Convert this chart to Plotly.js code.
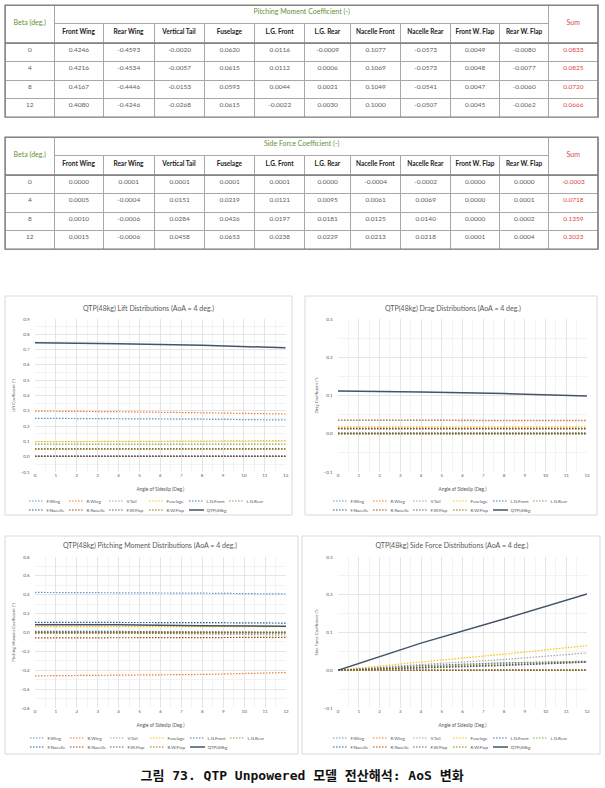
<!DOCTYPE html>
<html><head><meta charset="utf-8">
<script src="https://cdn.plot.ly/plotly-3.0.1.min.js"></script>
<style>
html,body{margin:0;padding:0;background:#fff;width:605px;height:788px;overflow:hidden;}
#wrap{width:1210px;height:1576px;transform:scale(0.5);transform-origin:0 0;}
</style></head><body><div id="wrap"><div id="chart"></div></div>
<script>
// ================= DATA =================
const beta = [0, 4, 8, 12];
const componentNames = ['F.Wing','R.Wing','V.Tail','Fuselage','L.G.Front','L.G.Rear','F.Nacelle','R.Nacelle','F.W.Flap','R.W.Flap'];
const totalName = 'QTP(48kg)';
const tableColumns = ['Front Wing','Rear Wing','Vertical Tail','Fuselage','L.G. Front','L.G. Rear','Nacelle Front','Nacelle Rear','Front W. Flap','Rear W. Flap'];

// Pitching moment coefficient, one row per component (Beta = 0, 4, 8, 12)
const pitchValues = [
  [0.4246, 0.4216, 0.4167, 0.4080],
  [-0.4593, -0.4534, -0.4446, -0.4246],
  [-0.0020, -0.0057, -0.0153, -0.0268],
  [0.0620, 0.0615, 0.0593, 0.0615],
  [0.0116, 0.0112, 0.0044, -0.0022],
  [-0.0009, 0.0006, 0.0021, 0.0030],
  [0.1077, 0.1069, 0.1049, 0.1000],
  [-0.0573, -0.0573, -0.0541, -0.0507],
  [0.0049, 0.0048, 0.0047, 0.0045],
  [-0.0080, -0.0077, -0.0060, -0.0062]
];
const pitchSum = [0.0833, 0.0825, 0.0720, 0.0666];

// Side force coefficient
const sideValues = [
  [0.0000, 0.0005, 0.0010, 0.0015],
  [0.0001, -0.0004, -0.0006, -0.0006],
  [0.0001, 0.0151, 0.0284, 0.0458],
  [0.0001, 0.0219, 0.0426, 0.0653],
  [0.0001, 0.0121, 0.0197, 0.0238],
  [0.0000, 0.0095, 0.0181, 0.0229],
  [-0.0004, 0.0061, 0.0125, 0.0213],
  [-0.0002, 0.0069, 0.0140, 0.0218],
  [0.0000, 0.0000, 0.0000, 0.0001],
  [0.0000, 0.0001, 0.0002, 0.0004]
];
const sideSum = [-0.0003, 0.0718, 0.1359, 0.2023];

// Lift coefficient
const liftValues = [
  [0.251, 0.249, 0.245, 0.240],
  [0.298, 0.294, 0.287, 0.279],
  [0.002, 0.002, 0.002, 0.002],
  [0.098, 0.099, 0.102, 0.106],
  [0.004, 0.004, 0.004, 0.004],
  [0.082, 0.082, 0.082, 0.082],
  [0.003, 0.003, 0.003, 0.003],
  [0.003, 0.003, 0.003, 0.003],
  [0.052, 0.052, 0.052, 0.052],
  [0.050, 0.050, 0.050, 0.050]
];
const liftTotal = [0.744, 0.738, 0.728, 0.712];

// Drag coefficient
const dragValues = [
  [0.035, 0.035, 0.034, 0.034],
  [0.036, 0.036, 0.035, 0.035],
  [0.002, 0.002, 0.002, 0.002],
  [0.018, 0.018, 0.018, 0.018],
  [0.001, 0.001, 0.001, 0.001],
  [0.001, 0.001, 0.001, 0.001],
  [0.013, 0.013, 0.013, 0.013],
  [0.014, 0.014, 0.014, 0.014],
  [0.001, 0.001, 0.001, 0.001],
  [-0.001, -0.001, -0.001, -0.001]
];
const dragTotal = [0.112, 0.109, 0.105, 0.099];

// ================= STYLE =================
const seriesColors = ['#5B9BD5','#ED7D31','#A5A5A5','#FFC000','#4472C4','#70AD47','#255E91','#9E480E','#636363','#997300'];
const totalColor = '#44546A';
const FONT = 'Lato, "Open Sans", sans-serif';
const TFONT = 'Lato, sans-serif';
const GRAY = '#595959';
const W = 605, H = 788, S = 2;
const fx = v => v / W, fy = v => 1 - v / H;

// The page is drawn at 2x and scaled down with CSS; report element sizes
// inside the scaled wrapper in the figure's own (unscaled) pixel units.
const wrapEl = document.getElementById('wrap');
const nativeRect = Element.prototype.getBoundingClientRect;
Element.prototype.getBoundingClientRect = function () {
  const r = nativeRect.call(this);
  if (this !== wrapEl && wrapEl.contains(this)) {
    const w = nativeRect.call(wrapEl);
    return new DOMRect(w.left + (r.left - w.left) * S, w.top + (r.top - w.top) * S, r.width * S, r.height * S);
  }
  return r;
};

const data = [];
const layout = {
  width: W * S, height: H * S, autosize: false,
  margin: {l: 0, r: 0, t: 0, b: 0},
  paper_bgcolor: '#fff', plot_bgcolor: '#fff',
  font: {family: FONT, color: GRAY},
  showlegend: true,
  annotations: [], shapes: []
};

// ================= TABLES =================
const colW = [49.7, 48.5, 51.2, 50.5, 49.7, 50.5, 45.4, 50.5, 49.7, 49.3, 48.9, 49.3];
const midW = colW.slice(1, 11).reduce((a, b) => a + b, 0);
const tLeft = 5, tRight = 5 + colW.reduce((a, b) => a + b, 0);
const midLeft = tLeft + colW[0], midRight = tRight - colW[11];
const GREEN = '#5f9233', RED = '#e0464b', LINE = '#a8a8a8', DATA = '#5e5e5e';
const nb = s => s.replace(/ /g, '\u00a0');

function addTable(top, title, values, sums) {
  const bottom = top + 38 + 4 * 18.5;
  data.push({
    type: 'table',
    domain: {x: [fx(tLeft), fx(tRight)], y: [fy(bottom + 0.5), fy(top)]},
    columnwidth: [colW[0], midW, colW[11]],
    header: {
      values: [['&nbsp;<br>' + nb('Beta (deg.)')], [nb(title)], ['&nbsp;<br>Sum']],
      height: 76, align: 'center',
      fill: {color: '#fff'}, line: {color: LINE, width: 2},
      font: {family: TFONT, size: 14, color: [GREEN, GREEN, RED]}
    },
    cells: {
      values: [beta, beta.map(() => ''), sums],
      format: ['', '', '.4f'],
      height: 37, align: 'center',
      fill: {color: '#fff'}, line: {color: LINE, width: 2},
      font: {family: TFONT, size: 13, color: [DATA, DATA, RED]}
    }
  });
  data.push({
    type: 'table',
    domain: {x: [fx(midLeft), fx(midRight)], y: [fy(bottom + 0.5), fy(top + 18.5)]},
    columnwidth: colW.slice(1, 11),
    header: {
      values: tableColumns.map(s => '<b>' + nb(s) + '</b>'),
      height: 39, align: 'center',
      fill: {color: '#fff'}, line: {color: LINE, width: 2},
      font: {family: TFONT, size: 13, color: '#222'}
    },
    cells: {
      values: values,
      format: values.map(() => '.4f'),
      height: 37, align: 'center',
      fill: {color: '#fff'}, line: {color: LINE, width: 2},
      font: {family: TFONT, size: 13, color: DATA}
    }
  });
  // outer frame and double rule under the column headers
  layout.shapes.push({
    type: 'rect', xref: 'paper', yref: 'paper', layer: 'above',
    x0: fx(tLeft), x1: fx(tRight), y0: fy(bottom), y1: fy(top),
    line: {color: '#7a7a7a', width: 2.5}, fillcolor: 'rgba(0,0,0,0)'
  });
  layout.shapes.push({
    type: 'line', xref: 'paper', yref: 'paper', layer: 'above',
    x0: fx(tLeft), x1: fx(tRight), y0: fy(top + 38), y1: fy(top + 38),
    line: {color: '#7a7a7a', width: 3}
  });
}
addTable(5, 'Pitching Moment Coefficient (-)', pitchValues, pitchSum);
addTable(137, 'Side Force Coefficient (-)', sideValues, sideSum);

// ================= CHARTS =================
const charts = [
  {title: 'QTP(48kg) Lift Distributions (AoA = 4 deg.)', ytitle: 'Lift Coefficient (*)',
   comps: liftValues, total: liftTotal, yr: [-0.1, 0.9], dt: 0.1,
   box: [5, 296, 292, 515], px: [35, 285.7], py: [319, 472], tx: 148.5, ty: 308, lx: 26.5, ly: [501, 510]},
  {title: 'QTP(48kg) Drag Distributions (AoA = 4 deg.)', ytitle: 'Drag Coefficient (*)',
   comps: dragValues, total: dragTotal, yr: [-0.1, 0.3], dt: 0.1,
   box: [305, 296, 597, 515], px: [338, 587], py: [319, 472], tx: 453, ty: 308, lx: 330.5, ly: [501, 510]},
  {title: 'QTP(48kg) Pitching Moment Distributions (AoA = 4 deg.)', ytitle: 'Pitching Moment Coefficient (*)',
   comps: pitchValues, total: pitchSum, yr: [-0.8, 0.8], dt: 0.2,
   box: [5, 536, 298, 754], px: [35, 286], py: [557, 708], tx: 150, ty: 545, lx: 27.5, ly: [738, 747]},
  {title: 'QTP(48kg) Side Force Distributions (AoA = 4 deg.)', ytitle: 'Side Force Coefficient (*)',
   comps: sideValues, total: sideSum, yr: [-0.1, 0.3], dt: 0.1,
   box: [302, 536, 600, 754], px: [338, 587], py: [557, 708], tx: 452, ty: 545, lx: 330.5, ly: [738, 747]}
];

charts.forEach((c, ci) => {
  const id = ci === 0 ? '' : String(ci + 1);
  const legA = ci === 0 ? 'legend' : 'legend' + (2 * ci + 1);
  const legB = 'legend' + (2 * ci + 2);
  c.comps.forEach((vals, k) => {
    data.push({
      type: 'scatter', mode: 'lines', x: beta, y: vals, name: componentNames[k],
      xaxis: 'x' + id, yaxis: 'y' + id, legend: k < 6 ? legA : legB,
      line: {color: seriesColors[k], width: 2.4, dash: 'dot'}, hoverinfo: 'skip'
    });
  });
  data.push({
    type: 'scatter', mode: 'lines', x: beta, y: c.total, name: totalName,
    xaxis: 'x' + id, yaxis: 'y' + id, legend: legB,
    line: {color: totalColor, width: 3}, hoverinfo: 'skip'
  });

  layout['xaxis' + id] = {
    domain: [fx(c.px[0]), fx(c.px[1])], anchor: 'y' + id,
    range: [0, 12], tick0: 0, dtick: 1, ticks: '', zeroline: false, showline: false,
    showgrid: true, gridcolor: '#dcdcdc', gridwidth: 1.5,
    minor: {dtick: 0.5, showgrid: true, gridcolor: '#efefef', gridwidth: 1.5},
    tickfont: {family: FONT, size: 9, color: GRAY},
    title: {text: 'Angle of Sideslip (Deg.)', font: {family: FONT, size: 9.5, color: GRAY}},
    fixedrange: true
  };
  layout['yaxis' + id] = {
    domain: [fy(c.py[1]), fy(c.py[0])], anchor: 'x' + id,
    range: [c.yr[0] - 1e-6, c.yr[1] + 1e-6], tick0: 0, dtick: c.dt, tickformat: '.1f',
    ticks: '', zeroline: false, showline: false, ticklabelstandoff: 10,
    showgrid: true, gridcolor: '#dcdcdc', gridwidth: 1.5,
    minor: {dtick: c.dt / 2, showgrid: true, gridcolor: '#efefef', gridwidth: 1.5},
    tickfont: {family: FONT, size: 9, color: GRAY},
    title: {text: c.ytitle, standoff: 8, font: {family: FONT, size: 8.5, color: GRAY}},
    fixedrange: true
  };
  [legA, legB].forEach((lg, r) => {
    layout[lg] = {
      x: fx(c.lx), xanchor: 'left', y: fy(c.ly[r]), yanchor: 'middle',
      orientation: 'h', entrywidth: 80 / (W * S), entrywidthmode: 'fraction',
      itemwidth: 30, traceorder: 'normal', bgcolor: 'rgba(0,0,0,0)', borderwidth: 0,
      font: {family: FONT, size: 9, color: GRAY}
    };
  });
  layout.annotations.push({
    xref: 'paper', yref: 'paper', x: fx(c.tx), y: fy(c.ty), xanchor: 'center', yanchor: 'middle',
    text: c.title, showarrow: false, font: {family: FONT, size: 14, color: GRAY}
  });
  layout.shapes.push({
    type: 'rect', xref: 'paper', yref: 'paper', layer: 'below',
    x0: fx(c.box[0]), x1: fx(c.box[2]), y0: fy(c.box[3]), y1: fy(c.box[1]),
    line: {color: '#d9d9d9', width: 2}, fillcolor: 'rgba(0,0,0,0)'
  });
});

layout.annotations.push({
  xref: 'paper', yref: 'paper', x: fx(302), y: fy(775), xanchor: 'center', yanchor: 'middle',
  text: '<b>그림 73. QTP Unpowered 모델 전산해석: AoS 변화</b>', showarrow: false,
  font: {family: '"DejaVu Sans Mono", "Noto Sans CJK KR", monospace', size: 26, color: '#111'}
});

Plotly.newPlot('chart', data, layout, {staticPlot: true, displayModeBar: false});
</script></body></html>
